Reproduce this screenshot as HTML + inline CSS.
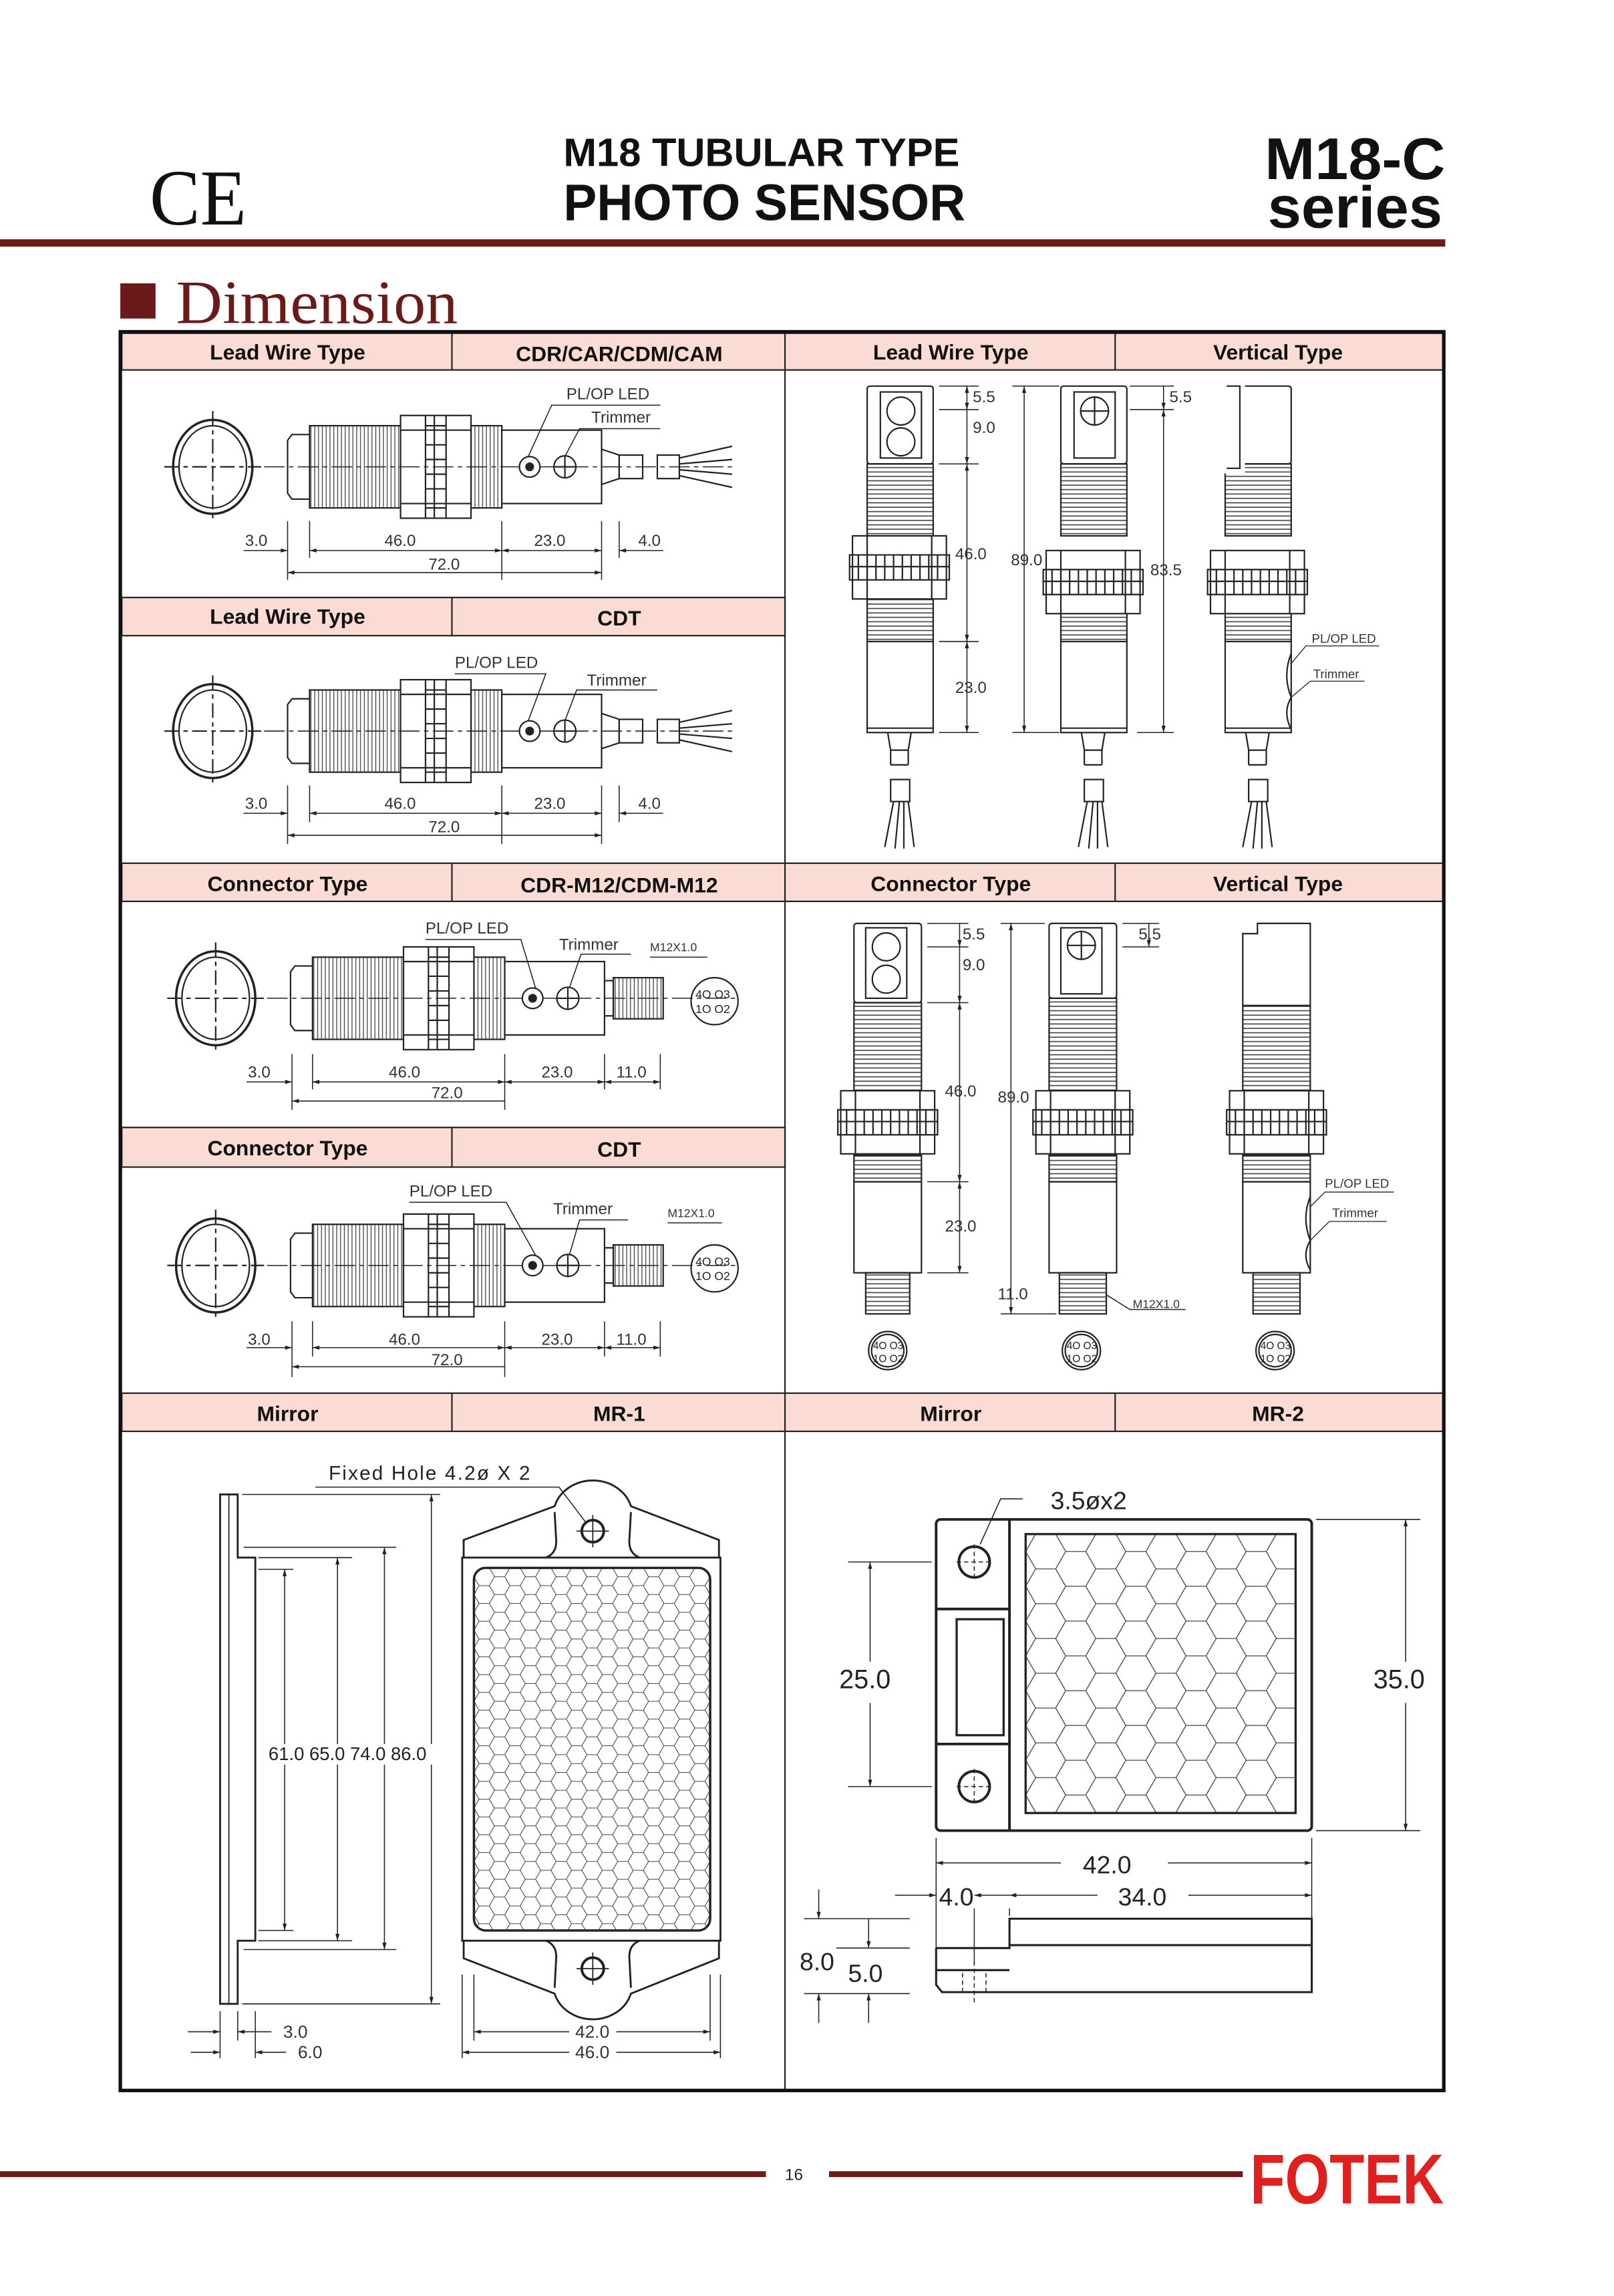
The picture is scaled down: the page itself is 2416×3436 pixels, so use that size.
<!DOCTYPE html>
<html><head><meta charset="utf-8"><style>
html,body{margin:0;padding:0;background:#fff;width:2416px;height:3436px;overflow:hidden}
svg{display:block}
text{font-family:"Liberation Sans",sans-serif;fill:#222}
.d{font-size:11px;fill:#333}
.h{font-size:14.5px;font-weight:bold;fill:#111}
</style></head><body>
<svg width="2416" height="3436" viewBox="0 0 1100 1564" preserveAspectRatio="none" xmlns="http://www.w3.org/2000/svg">
<defs>
<pattern id="vth" width="2.6" height="10" patternUnits="userSpaceOnUse"><line x1="1.3" y1="0" x2="1.3" y2="10" stroke="#444" stroke-width="0.6"/></pattern>
<pattern id="hth" width="10" height="3" patternUnits="userSpaceOnUse"><line x1="0" y1="1.5" x2="10" y2="1.5" stroke="#444" stroke-width="0.7"/></pattern>
<pattern id="hex1" width="21" height="12.12" patternUnits="userSpaceOnUse" x="323" y="1068">
<path d="M0,6.06 L3.5,0 L10.5,0 L14,6.06 L10.5,12.12 L3.5,12.12 Z M14,6.06 L21,6.06" fill="none" stroke="#444" stroke-width="0.5"/></pattern>
<pattern id="hex2" width="41" height="23.7" patternUnits="userSpaceOnUse" x="699" y="1045">
<path d="M0,11.85 L6.85,0 L20.5,0 L27.3,11.85 L20.5,23.7 L6.85,23.7 Z M27.3,11.85 L41,11.85" fill="none" stroke="#444" stroke-width="0.6"/></pattern>
<marker id="ar" viewBox="0 0 10 6" refX="10" refY="3" markerWidth="8" markerHeight="4" orient="auto-start-reverse"><path d="M0,0 L10,3 L0,6 Z" fill="#222"/></marker>

<g id="hsens" fill="none" stroke="#222" stroke-width="1">
 <ellipse cx="145" cy="0" rx="27" ry="32" stroke-width="1.6"/>
 <ellipse cx="145" cy="0" rx="23" ry="28"/>
 <line x1="112" y1="0" x2="178" y2="0" stroke-dasharray="10 3 3 3"/>
 <line x1="145" y1="-38" x2="145" y2="38" stroke-dasharray="10 3 3 3"/>
 <path d="M211,-22 L199,-22 L196,-18 L196,18 L199,22 L211,22"/>
 <rect x="211" y="-28" width="62" height="56" fill="url(#vth)"/>
 <rect x="321" y="-28" width="21" height="56" fill="url(#vth)"/>
 <rect x="273" y="-35" width="48" height="70" fill="#fff"/>
 <path d="M290,-35 V35 M296,-35 V35 M304,-35 V35 M273,-25 H321 M273,25 H321 M290,-15 H304 M290,-5 H304 M290,5 H304 M290,15 H304 M290,-28 H304 M290,28 H304"/>
 <rect x="342" y="-25" width="68" height="50" fill="#fff"/>
 <line x1="180" y1="0" x2="500" y2="0" stroke-dasharray="14 3 3 3" stroke-width="0.7"/>
 <circle cx="361" cy="0" r="7" fill="#fff"/><circle cx="361" cy="0" r="2.5" fill="#222"/>
 <circle cx="385" cy="0" r="7.5" fill="#fff"/><path d="M378,0 H392 M385,-7 V7"/>
</g>
<g id="hcable" fill="none" stroke="#222" stroke-width="1">
 <path d="M410,-12 L422,-8 V8 L410,12"/>
 <rect x="422" y="-8" width="16" height="16"/>
 <rect x="448" y="-8" width="15" height="16"/>
 <path d="M463,-6 L499,-14 M463,-2 L499,-5 M463,2 L499,5 M463,6 L499,14"/>
</g>
<g id="hconn" fill="none" stroke="#222" stroke-width="1">
 <path d="M410,-12 L416,-12 V12 L410,12"/>
 <rect x="416" y="-14" width="34" height="28" fill="url(#vth)"/>
 <circle cx="485" cy="2" r="16"/>
 <text x="472" y="0" style="font-size:8px" stroke="none" fill="#222">4O O3</text>
 <text x="472" y="10" style="font-size:8px" stroke="none" fill="#222">1O O2</text>
</g>
<g id="face" fill="none" stroke="#222" stroke-width="1">
 <circle cx="0" cy="0" r="13"/><circle cx="0" cy="0" r="11"/>
 <text x="-10" y="-1" style="font-size:7px" stroke="none" fill="#222">4O O3</text>
 <text x="-10" y="8" style="font-size:7px" stroke="none" fill="#222">1O O2</text>
</g>
<g id="vcore" fill="none" stroke="#222" stroke-width="1">
 <rect x="-22" y="0" width="45" height="53" rx="2" fill="#fff"/>
 <rect x="-22" y="53" width="45" height="49" fill="url(#hth)"/>
 <rect x="-22" y="145" width="45" height="29" fill="url(#hth)"/>
 <rect x="-22" y="174" width="45" height="62" fill="#fff"/>
 <line x1="-22" y1="233" x2="23" y2="233"/>
</g>
<g id="vnut" fill="none" stroke="#222" stroke-width="1">
 <rect x="-32" y="0" width="64" height="43" fill="#fff"/>
 <path d="M-34,13 H34 V30 H-34 Z M-34,21 H34 M-22,0 V43 M22,0 V43"/>
 <path d="M-28,13 V30 M-22,13 V30 M-16,13 V30 M-10,13 V30 M-4,13 V30 M2,13 V30 M8,13 V30 M14,13 V30 M20,13 V30 M26,13 V30"/>
</g>
<g id="vcab" fill="none" stroke="#222" stroke-width="1">
 <path d="M-8,0 L-6,12 V22 M8,0 L6,12 V22 M-6,12 H6 M-6,22 H6"/>
 <rect x="-6" y="32" width="13" height="15"/>
 <path d="M-4,47 L-10,78 M0,47 L-3,79 M3,47 L3,79 M6,47 L10,78"/>
</g>
</defs>

<!-- header -->
<text x="102" y="153" style="font-family:'Liberation Serif',serif;font-size:54px;fill:#111" textLength="66" lengthAdjust="spacingAndGlyphs">CE</text>
<text x="384" y="113" style="font-size:27px;font-weight:bold;fill:#111" textLength="270" lengthAdjust="spacingAndGlyphs">M18 TUBULAR TYPE</text>
<text x="384" y="150" style="font-size:35px;font-weight:bold;fill:#111" textLength="274" lengthAdjust="spacingAndGlyphs">PHOTO SENSOR</text>
<text x="862" y="122" style="font-size:40px;font-weight:bold;fill:#111" textLength="123" lengthAdjust="spacingAndGlyphs">M18-C</text>
<text x="864" y="155" style="font-size:40px;font-weight:bold;fill:#111" textLength="119" lengthAdjust="spacingAndGlyphs">series</text>
<rect x="0" y="163" width="985" height="5" fill="#6b1a1a"/>
<rect x="82" y="193" width="24" height="24" fill="#6b1a1a"/>
<text x="120" y="220" style="font-family:'Liberation Serif',serif;font-size:42px;fill:#6b1a1a" textLength="192" lengthAdjust="spacingAndGlyphs">Dimension</text>

<!-- table headers -->
<g fill="#fadcd4" stroke="#222" stroke-width="1">
<rect x="83" y="227" width="901" height="25"/>
<rect x="83" y="407" width="452" height="26"/>
<rect x="83" y="588" width="901" height="26"/>
<rect x="83" y="768" width="452" height="27"/>
<rect x="83" y="949" width="901" height="26"/>
</g>
<g stroke="#222" stroke-width="1">
<line x1="308" y1="227" x2="308" y2="252"/><line x1="760" y1="227" x2="760" y2="252"/>
<line x1="308" y1="407" x2="308" y2="433"/>
<line x1="308" y1="588" x2="308" y2="614"/><line x1="760" y1="588" x2="760" y2="614"/>
<line x1="308" y1="768" x2="308" y2="795"/>
<line x1="308" y1="949" x2="308" y2="975"/><line x1="760" y1="949" x2="760" y2="975"/>
<line x1="535" y1="227" x2="535" y2="1424"/>
</g>
<rect x="82" y="226" width="902" height="1198" fill="none" stroke="#111" stroke-width="2.4"/>
<g class="h" text-anchor="middle">
<text class="h" x="196" y="245">Lead Wire Type</text><text class="h" x="422" y="246">CDR/CAR/CDM/CAM</text>
<text class="h" x="648" y="245">Lead Wire Type</text><text class="h" x="871" y="245">Vertical Type</text>
<text class="h" x="196" y="425">Lead Wire Type</text><text class="h" x="422" y="426">CDT</text>
<text class="h" x="196" y="607">Connector Type</text><text class="h" x="422" y="608">CDR-M12/CDM-M12</text>
<text class="h" x="648" y="607">Connector Type</text><text class="h" x="871" y="607">Vertical Type</text>
<text class="h" x="196" y="787">Connector Type</text><text class="h" x="422" y="788">CDT</text>
<text class="h" x="196" y="968">Mirror</text><text class="h" x="422" y="968">MR-1</text>
<text class="h" x="648" y="968">Mirror</text><text class="h" x="871" y="968">MR-2</text>
</g>

<!-- horizontal sensors -->
<use href="#hsens" transform="translate(0,318)"/><use href="#hcable" transform="translate(0,318)"/>
<use href="#hsens" transform="translate(0,498)"/><use href="#hcable" transform="translate(0,498)"/>
<use href="#hsens" transform="translate(2,680)"/><use href="#hconn" transform="translate(2,680)"/>
<use href="#hsens" transform="translate(2,862)"/><use href="#hconn" transform="translate(2,862)"/>

<g fill="none" stroke="#222" stroke-width="0.7">
<path d="M196,355 V395 M211,355 V380 M342,355 V395 M410,355 V395 M422,355 V380"/>
<line x1="166" y1="375" x2="196" y2="375" marker-end="url(#ar)"/>
<line x1="211" y1="375" x2="342" y2="375" marker-start="url(#ar)" marker-end="url(#ar)"/>
<line x1="342" y1="375" x2="410" y2="375" marker-start="url(#ar)" marker-end="url(#ar)"/>
<line x1="452" y1="375" x2="422" y2="375" marker-end="url(#ar)"/>
<line x1="196" y1="390" x2="410" y2="390" marker-start="url(#ar)" marker-end="url(#ar)"/>
<path d="M360,311 L376,276 H450 M385,311 L395,292 H450"/>
<path d="M196,535 V575 M211,535 V560 M342,535 V575 M410,535 V575 M422,535 V560"/>
<line x1="166" y1="554" x2="196" y2="554" marker-end="url(#ar)"/>
<line x1="211" y1="554" x2="342" y2="554" marker-start="url(#ar)" marker-end="url(#ar)"/>
<line x1="342" y1="554" x2="410" y2="554" marker-start="url(#ar)" marker-end="url(#ar)"/>
<line x1="452" y1="554" x2="422" y2="554" marker-end="url(#ar)"/>
<line x1="196" y1="569" x2="410" y2="569" marker-start="url(#ar)" marker-end="url(#ar)"/>
<path d="M310,459 H372 L360,491 M385,491 L393,470 H448"/>
<path d="M199,718 V756 M213,718 V742 M344,718 V756 M412,718 V742 M450,718 V742"/>
<line x1="168" y1="737" x2="199" y2="737" marker-end="url(#ar)"/>
<line x1="213" y1="737" x2="344" y2="737" marker-start="url(#ar)" marker-end="url(#ar)"/>
<line x1="344" y1="737" x2="412" y2="737" marker-start="url(#ar)" marker-end="url(#ar)"/>
<line x1="412" y1="737" x2="450" y2="737" marker-start="url(#ar)" marker-end="url(#ar)"/>
<line x1="199" y1="750" x2="344" y2="750" marker-start="url(#ar)"/>
<path d="M290,640 H355 L365,673 M388,673 L396,650 H430 M443,652 H482"/>
<path d="M199,900 V938 M213,900 V924 M344,900 V938 M412,900 V924 M450,900 V924"/>
<line x1="168" y1="918" x2="199" y2="918" marker-end="url(#ar)"/>
<line x1="213" y1="918" x2="344" y2="918" marker-start="url(#ar)" marker-end="url(#ar)"/>
<line x1="344" y1="918" x2="412" y2="918" marker-start="url(#ar)" marker-end="url(#ar)"/>
<line x1="412" y1="918" x2="450" y2="918" marker-start="url(#ar)" marker-end="url(#ar)"/>
<line x1="199" y1="931" x2="344" y2="931" marker-start="url(#ar)"/>
<path d="M279,819 H345 L365,855 M388,855 L395,831 H428 M455,833 H492"/>
</g>
<g class="d">
<text class="d" x="167" y="372">3.0</text><text class="d" x="262" y="372">46.0</text><text class="d" x="364" y="372">23.0</text><text class="d" x="435" y="372">4.0</text><text class="d" x="292" y="388">72.0</text>
<text class="d" x="386" y="272">PL/OP  LED</text><text class="d" x="403" y="288">Trimmer</text>
<text class="d" x="167" y="551">3.0</text><text class="d" x="262" y="551">46.0</text><text class="d" x="364" y="551">23.0</text><text class="d" x="435" y="551">4.0</text><text class="d" x="292" y="567">72.0</text>
<text class="d" x="310" y="455">PL/OP  LED</text><text class="d" x="400" y="467">Trimmer</text>
<text class="d" x="169" y="734">3.0</text><text class="d" x="265" y="734">46.0</text><text class="d" x="369" y="734">23.0</text><text class="d" x="420" y="734">11.0</text><text class="d" x="294" y="748">72.0</text>
<text class="d" x="290" y="636">PL/OP  LED</text><text class="d" x="381" y="647">Trimmer</text><text class="d" x="443" y="648" style="font-size:8px">M12X1.0</text>
<text class="d" x="169" y="916">3.0</text><text class="d" x="265" y="916">46.0</text><text class="d" x="369" y="916">23.0</text><text class="d" x="420" y="916">11.0</text><text class="d" x="294" y="930">72.0</text>
<text class="d" x="279" y="815">PL/OP  LED</text><text class="d" x="377" y="827">Trimmer</text><text class="d" x="455" y="829" style="font-size:8px">M12X1.0</text>
</g>

<!-- vertical sensors top -->
<use href="#vcore" transform="translate(613,263)"/><use href="#vnut" transform="translate(613,365)"/><use href="#vcab" transform="translate(613,499)"/>
<use href="#vcore" transform="translate(745,263)"/><use href="#vnut" transform="translate(745,375)"/><use href="#vcab" transform="translate(745,499)"/>
<use href="#vcore" transform="translate(857,263)"/><use href="#vnut" transform="translate(857,375)"/><use href="#vcab" transform="translate(857,499)"/>
<g fill="none" stroke="#222" stroke-width="1">
<rect x="600" y="267" width="28" height="45"/><circle cx="614" cy="280" r="9.5"/><circle cx="614" cy="301" r="9.5"/>
<rect x="732" y="267" width="28" height="45"/><circle cx="746" cy="280" r="9.5"/><path d="M746,270 V290 M736,280 H756"/>
<rect x="834" y="260" width="14" height="62" fill="#fff" stroke="#fff"/><path d="M836,263 H845 V319 H836"/>
<path d="M880,445 Q874,460 880,475 Q874,485 880,497" />
<path d="M880,452 L890,440 H940 M880,475 L893,464 H930" stroke-width="0.6"/>
</g>
<g fill="none" stroke="#222" stroke-width="0.7">
<path d="M640,263 H667 M640,279 H667 M640,316 H667 M640,437 H667 M640,499 H667"/>
<line x1="659" y1="263" x2="659" y2="279" marker-start="url(#ar)" marker-end="url(#ar)"/>
<line x1="659" y1="279" x2="659" y2="316" marker-end="url(#ar)"/>
<line x1="659" y1="316" x2="659" y2="437" marker-start="url(#ar)" marker-end="url(#ar)"/>
<line x1="659" y1="437" x2="659" y2="499" marker-start="url(#ar)" marker-end="url(#ar)"/>
<path d="M690,263 H722 M690,499 H722 M770,263 H800 M770,279 H800 M775,499 H800"/>
<line x1="698" y1="263" x2="698" y2="499" marker-start="url(#ar)" marker-end="url(#ar)"/>
<line x1="793" y1="263" x2="793" y2="279" marker-end="url(#ar)"/>
<line x1="793" y1="279" x2="793" y2="499" marker-start="url(#ar)" marker-end="url(#ar)"/>
</g>
<g class="d">
<text class="d" x="663" y="274">5.5</text><text class="d" x="663" y="295">9.0</text><text class="d" x="651" y="381">46.0</text><text class="d" x="651" y="472">23.0</text>
<text class="d" x="689" y="385">89.0</text><text class="d" x="784" y="392">83.5</text><text class="d" x="797" y="274">5.5</text>
<text class="d" x="894" y="438" style="font-size:8.5px">PL/OP  LED</text><text class="d" x="895" y="462" style="font-size:8.5px">Trimmer</text>
</g>

<!-- vertical connector sensors -->
<g fill="none" stroke="#222" stroke-width="1">
<rect x="582" y="629" width="46" height="54" rx="2"/><rect x="590" y="632" width="28" height="48"/><circle cx="604" cy="645" r="9.5"/><circle cx="604" cy="667" r="9.5"/>
<rect x="582" y="683" width="46" height="60" fill="url(#hth)"/><rect x="582" y="787" width="46" height="18" fill="url(#hth)"/><rect x="582" y="805" width="46" height="62"/>
<rect x="590" y="867" width="30" height="28" fill="url(#hth)"/>
<rect x="715" y="629" width="46" height="51" rx="2"/><rect x="723" y="632" width="28" height="45"/><circle cx="737" cy="644" r="9.5"/><path d="M737,634 V654 M727,644 H747"/>
<rect x="715" y="680" width="46" height="63" fill="url(#hth)"/><rect x="715" y="787" width="46" height="18" fill="url(#hth)"/><rect x="715" y="805" width="46" height="62"/>
<rect x="722" y="867" width="32" height="28" fill="url(#hth)"/>
<path d="M857,629 H893 V685 H847 V636 H857 Z"/>
<rect x="847" y="685" width="46" height="58" fill="url(#hth)"/><rect x="847" y="787" width="46" height="18" fill="url(#hth)"/><rect x="847" y="805" width="46" height="62"/>
<rect x="854" y="867" width="32" height="28" fill="url(#hth)"/>
<path d="M893,815 Q887,830 893,845 Q887,855 893,865"/>
<path d="M893,822 L903,812 H950 M893,845 L906,832 H945" stroke-width="0.6"/>
</g>
<use href="#vnut" transform="translate(605,743)"/><use href="#vnut" transform="translate(738,743)"/><use href="#vnut" transform="translate(870,743)"/>
<use href="#face" transform="translate(605,920)"/><use href="#face" transform="translate(737,920)"/><use href="#face" transform="translate(869,920)"/>
<g fill="none" stroke="#222" stroke-width="0.7">
<path d="M632,629 H660 M632,645 H660 M632,683 H660 M632,805 H660 M632,867 H660"/>
<line x1="654" y1="629" x2="654" y2="645" marker-end="url(#ar)"/>
<line x1="654" y1="645" x2="654" y2="683" marker-end="url(#ar)"/>
<line x1="654" y1="683" x2="654" y2="805" marker-start="url(#ar)" marker-end="url(#ar)"/>
<line x1="654" y1="805" x2="654" y2="867" marker-start="url(#ar)" marker-end="url(#ar)"/>
<path d="M682,629 H712 M682,895 H720 M765,629 H790 M765,645 H790"/>
<line x1="689" y1="629" x2="689" y2="895" marker-start="url(#ar)" marker-end="url(#ar)"/>
<line x1="783" y1="629" x2="783" y2="645" marker-end="url(#ar)"/>
<path d="M754,882 L770,892 H808"/>
</g>
<g class="d">
<text class="d" x="656" y="640">5.5</text><text class="d" x="656" y="661">9.0</text><text class="d" x="644" y="747">46.0</text><text class="d" x="644" y="839">23.0</text>
<text class="d" x="680" y="751">89.0</text><text class="d" x="776" y="640">5.5</text><text class="d" x="680" y="885">11.0</text>
<text class="d" x="772" y="891" style="font-size:8px">M12X1.0</text>
<text class="d" x="903" y="809" style="font-size:8.5px">PL/OP  LED</text><text class="d" x="908" y="829" style="font-size:8.5px">Trimmer</text>
</g>

<!-- MR-1 -->
<g fill="none" stroke="#222" stroke-width="1.3">
<path d="M150,1018 H162 V1061 H174 V1322 H162 V1365 H150 Z"/>
<line x1="156" y1="1018" x2="156" y2="1365" stroke-width="0.8"/>
<path d="M315,1061 V1322 H491 V1061 Z"/>
<path d="M316,1061 V1049 L378,1026 A27,24 0 0 1 430,1026 L490,1049 V1061"/>
<path d="M372,1061 Q380,1058 379,1048 L378,1030 M436,1061 Q428,1058 429,1048 L430,1030"/>
<path d="M316,1322 V1334 L378,1358 A27,24 0 0 0 430,1358 L490,1334 V1322"/>
<path d="M372,1322 Q380,1325 379,1335 L378,1354 M436,1322 Q428,1325 429,1335 L430,1354"/>
<rect x="323" y="1068" width="161" height="247" rx="8" fill="url(#hex1)" stroke-width="1.6"/>
<circle cx="404" cy="1043" r="7.5" stroke-width="1.8"/><path d="M393,1043 H415 M404,1032 V1054" stroke-width="0.8"/>
<circle cx="404" cy="1341" r="7.5" stroke-width="1.8"/><path d="M393,1341 H415 M404,1330 V1352" stroke-width="0.8"/>
</g>
<g fill="none" stroke="#222" stroke-width="0.7">
<path d="M215,1013 H381 L400,1038"/>
<path d="M165,1018 H300 M166,1054 H270 M176,1061 H240 M176,1069 H200 M176,1315 H200 M176,1322 H240 M166,1328 H270 M165,1365 H300"/>
<line x1="194" y1="1069" x2="194" y2="1188" marker-start="url(#ar)"/><line x1="194" y1="1202" x2="194" y2="1315" marker-end="url(#ar)"/>
<line x1="230" y1="1061" x2="230" y2="1188" marker-start="url(#ar)"/><line x1="230" y1="1202" x2="230" y2="1322" marker-end="url(#ar)"/>
<line x1="262" y1="1054" x2="262" y2="1188" marker-start="url(#ar)"/><line x1="262" y1="1202" x2="262" y2="1328" marker-end="url(#ar)"/>
<line x1="294" y1="1018" x2="294" y2="1188" marker-start="url(#ar)"/><line x1="294" y1="1202" x2="294" y2="1365" marker-end="url(#ar)"/>
<path d="M150,1370 V1402 M162,1370 V1390 M174,1370 V1402 M315,1345 V1402 M491,1345 V1402 M323,1345 V1390 M484,1345 V1390"/>
<line x1="128" y1="1384" x2="150" y2="1384" marker-end="url(#ar)"/><line x1="185" y1="1384" x2="162" y2="1384" marker-end="url(#ar)"/>
<line x1="130" y1="1398" x2="150" y2="1398" marker-end="url(#ar)"/><line x1="195" y1="1398" x2="174" y2="1398" marker-end="url(#ar)"/>
<line x1="323" y1="1384" x2="388" y2="1384" marker-start="url(#ar)"/><line x1="420" y1="1384" x2="484" y2="1384" marker-end="url(#ar)"/>
<line x1="315" y1="1398" x2="388" y2="1398" marker-start="url(#ar)"/><line x1="420" y1="1398" x2="491" y2="1398" marker-end="url(#ar)"/>
</g>
<g style="font-size:13px">
<text x="224" y="1008" style="font-size:13.5px;letter-spacing:1px">Fixed  Hole  4.2ø  X  2</text>
<text x="183" y="1199" style="font-size:12.5px">61.0  65.0  74.0  86.0</text>
<text x="193" y="1388" class="d" style="font-size:12px">3.0</text><text x="203" y="1402" class="d" style="font-size:12px">6.0</text>
<text x="392" y="1388" class="d" style="font-size:12px">42.0</text><text x="392" y="1402" class="d" style="font-size:12px">46.0</text>
</g>

<!-- MR-2 -->
<g fill="none" stroke="#222" stroke-width="1.8">
<rect x="638" y="1035" width="256" height="212" rx="3"/>
<line x1="688" y1="1035" x2="688" y2="1247"/>
<path d="M638,1096 H688 M638,1188 H688"/>
<rect x="652" y="1103" width="32" height="79" stroke-width="1.5"/>
<rect x="699" y="1045" width="184" height="190" fill="url(#hex2)" stroke-width="1.5"/>
<circle cx="664" cy="1064" r="10.5"/><circle cx="664" cy="1217" r="10.5"/>
<path d="M638,1327 H688 V1307 H894 V1357 H688 M638,1327 V1352 L642,1357 H688 M688,1325 H894 M638,1342 H688" stroke-width="1.4"/>
</g>
<g fill="none" stroke="#222" stroke-width="0.7">
<path d="M652,1064 H676 M664,1052 V1076 M652,1217 H676 M664,1205 V1229 M656,1344 V1357 M664,1336 V1364 M672,1344 V1357" stroke-dasharray="3 2"/>
<path d="M697,1021 H682 L668,1052"/>
<path d="M578,1064 H635 M578,1217 H635 M897,1035 H968 M897,1247 H968"/>
<line x1="593" y1="1064" x2="593" y2="1132" marker-start="url(#ar)"/><line x1="593" y1="1160" x2="593" y2="1217" marker-end="url(#ar)"/>
<line x1="958" y1="1035" x2="958" y2="1132" marker-start="url(#ar)"/><line x1="958" y1="1160" x2="958" y2="1247" marker-end="url(#ar)"/>
<path d="M638,1252 V1338 M894,1252 V1307 M688,1300 V1305 M664,1300 V1338"/>
<line x1="638" y1="1269" x2="723" y2="1269" marker-start="url(#ar)"/><line x1="796" y1="1269" x2="894" y2="1269" marker-end="url(#ar)"/>
<line x1="610" y1="1291" x2="638" y2="1291" marker-end="url(#ar)"/><line x1="688" y1="1291" x2="664" y2="1291" marker-end="url(#ar)"/>
<line x1="688" y1="1291" x2="748" y2="1291" marker-start="url(#ar)"/><line x1="810" y1="1291" x2="894" y2="1291" marker-end="url(#ar)"/>
<path d="M548,1307 H620 M570,1327 H620 M548,1358 H620"/>
<line x1="558" y1="1287" x2="558" y2="1307" marker-end="url(#ar)"/><line x1="558" y1="1378" x2="558" y2="1358" marker-end="url(#ar)"/>
<line x1="592" y1="1307" x2="592" y2="1327" marker-end="url(#ar)"/><line x1="592" y1="1378" x2="592" y2="1358" marker-end="url(#ar)"/>
</g>
<g style="font-size:17px">
<text x="716" y="1028" style="font-size:17px">3.5øx2</text>
<text x="572" y="1150" style="font-size:18px">25.0</text>
<text x="936" y="1150" style="font-size:18px">35.0</text>
<text x="738" y="1276" style="font-size:17px">42.0</text>
<text x="640" y="1298" style="font-size:17px">4.0</text>
<text x="762" y="1298" style="font-size:17px">34.0</text>
<text x="545" y="1342" style="font-size:17px">8.0</text>
<text x="578" y="1350" style="font-size:17px">5.0</text>
</g>

<!-- footer -->
<rect x="0" y="1479" width="522" height="4" fill="#6b1a1a"/>
<text x="535" y="1485" style="font-size:11px">16</text>
<rect x="565" y="1479" width="282" height="4" fill="#6b1a1a"/>
<text x="852" y="1501" style="font-size:48px;font-weight:bold;fill:#e01f1f" textLength="132" lengthAdjust="spacingAndGlyphs">FOTEK</text>
</svg>
</body></html>
